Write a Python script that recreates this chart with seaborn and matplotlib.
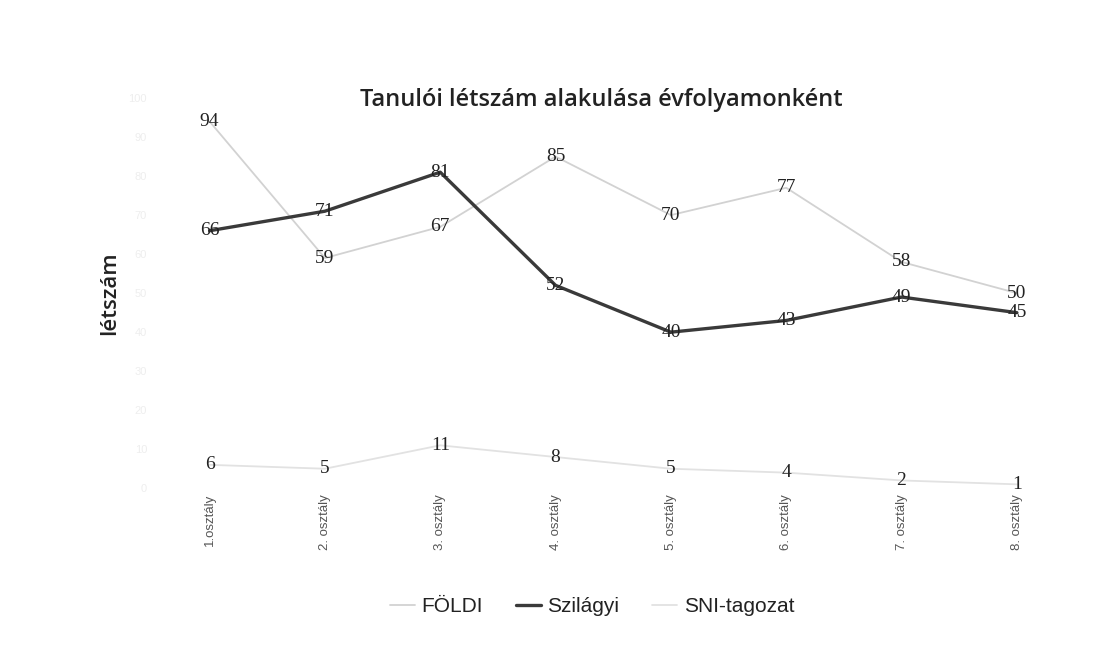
import pandas as pd
import seaborn as sns
import matplotlib.pyplot as plt

# data
osztaly = ['1.osztály', '2. osztály', '3. osztály', '4. osztály',
           '5. osztály', '6. osztály', '7. osztály', '8. osztály']
foldi = [94, 59, 67, 85, 70, 77, 58, 50]
szilagyi = [66, 71, 81, 52, 40, 43, 49, 45]
sni = [6, 5, 11, 8, 5, 4, 2, 1]

df = pd.DataFrame({'osztaly': osztaly * 3,
                   'letszam': foldi + szilagyi + sni,
                   'tipus': ['FÖLDI'] * 8 + ['Szilágyi'] * 8 + ['SNI-tagozat'] * 8})

sns.set_style("white")
plt.rcParams['font.family'] = ['Liberation Sans', 'DejaVu Sans']

colors = {'FÖLDI': '#d2d2d2', 'Szilágyi': '#3a3a3a', 'SNI-tagozat': '#e2e2e2'}
widths = {'FÖLDI': 1.3, 'Szilágyi': 2.4, 'SNI-tagozat': 1.3}

fig = plt.figure(figsize=(11.17, 6.67), dpi=100)
ax = fig.add_axes([0.136, 0.268, 0.826, 0.585])

sns.lineplot(data=df, x='osztaly', y='letszam', hue='tipus', palette=colors,
             sort=False, ax=ax, legend=False)
for line, t in zip(ax.lines, ['FÖLDI', 'Szilágyi', 'SNI-tagozat']):
    line.set_linewidth(widths[t])

# value labels centered on the points
for t, vals in [('FÖLDI', foldi), ('Szilágyi', szilagyi), ('SNI-tagozat', sni)]:
    for i, v in enumerate(vals):
        ax.text(i, v, str(v), ha='center', va='center', fontsize=14,
                family='Liberation Serif', color='#222222')

ax.set_xlim(-0.5, 7.5)
ax.set_ylim(0, 100)
ax.set_yticks(range(0, 101, 10))
ax.tick_params(axis='y', labelsize=8, colors='#eeeeee', length=0)
ax.tick_params(axis='x', length=0, labelsize=9.5, labelcolor='#555555', pad=4)
plt.setp(ax.get_xticklabels(), rotation=90)
for s in ax.spines.values():
    s.set_visible(False)

ax.set_xlabel('')
ax.set_ylabel('létszám', fontsize=16, color='#222222', labelpad=6,
              family='Open Sans', fontweight='semibold')
fig.text(0.538, 0.85, 'Tanulói létszám alakulása évfolyamonként', ha='center',
         va='center', fontsize=17, fontweight='semibold', family='Open Sans',
         color='#222222')

handles = [plt.Line2D([], [], color=colors[t], lw=widths[t]) for t in colors]
fig.legend(handles, list(colors), loc='center', bbox_to_anchor=(0.53, 0.09),
           ncol=3, frameon=False, fontsize=15, handlelength=1.2,
           handletextpad=0.3, columnspacing=1.6, labelcolor='#222222')

plt.savefig('out.png', dpi=100)
